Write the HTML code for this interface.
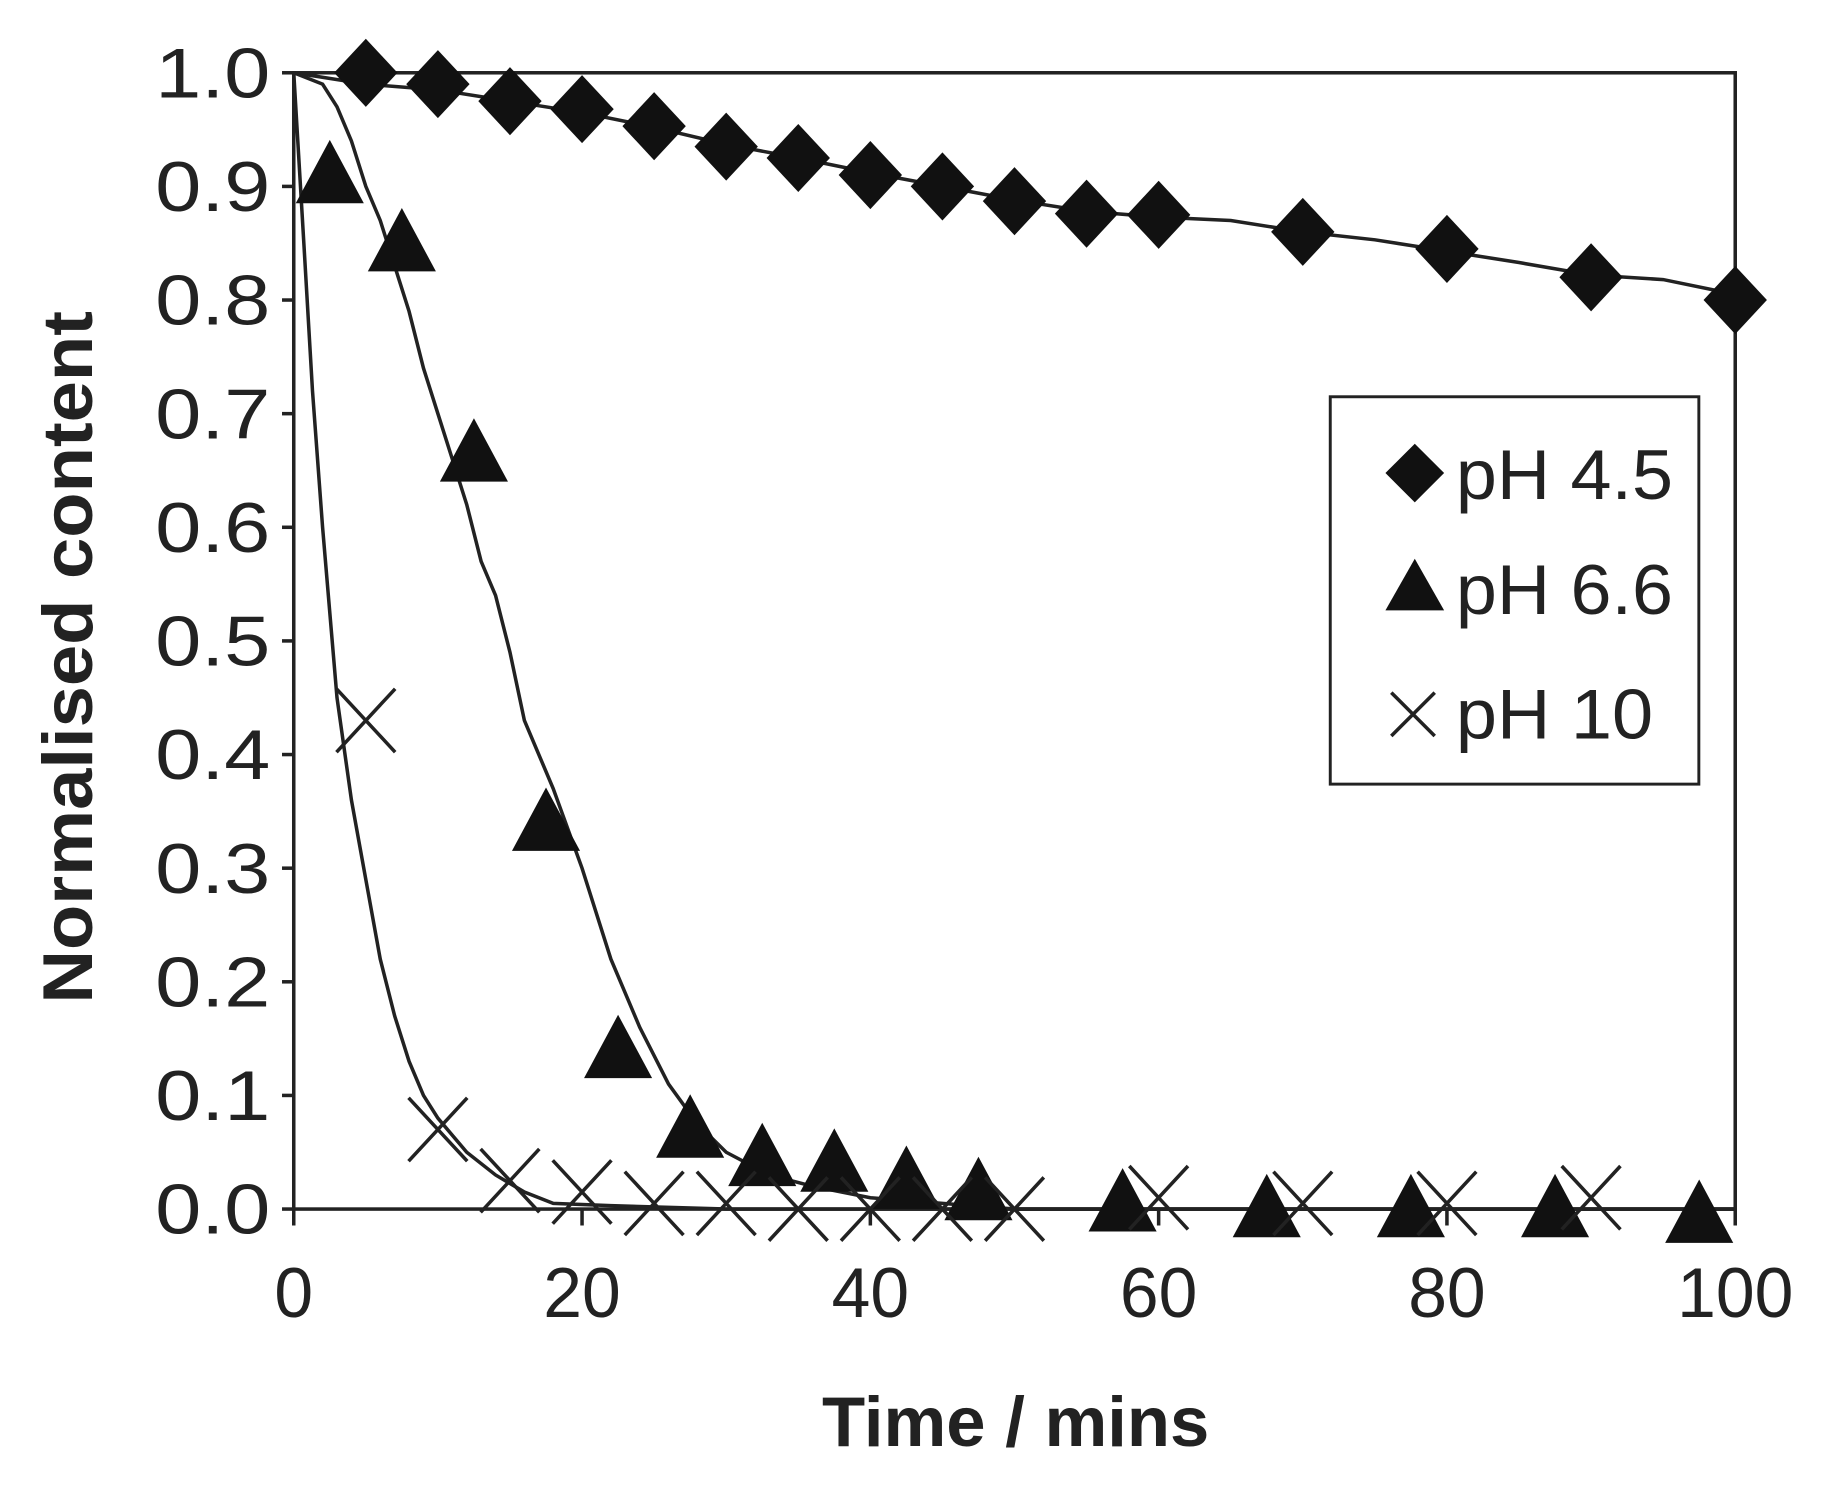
<!DOCTYPE html>
<html><head><meta charset="utf-8"><style>
html,body{margin:0;padding:0;background:#fff;}
svg{display:block;}
text{font-family:"Liberation Sans",Arial,sans-serif;fill:#222;}
</style></head><body>
<svg id="s" width="1840" height="1499" viewBox="0 0 1567 1277" xmlns="http://www.w3.org/2000/svg">
<rect x="0" y="0" width="1567" height="1277" fill="#fff"/>
<rect x="250" y="62" width="1228" height="968" fill="none" stroke="#222" stroke-width="3"/>
<g id="ticks" stroke="#222" stroke-width="3"></g>
<g id="labels" font-size="60" ></g>
<g id="curves" fill="none" stroke="#222" stroke-width="3"></g>
<g id="marks"></g>
<text x="865" y="1232" font-size="60" font-weight="bold" text-anchor="middle" textLength="330" lengthAdjust="spacingAndGlyphs">Time / mins</text>
<text transform="translate(78,560) rotate(-90)" font-size="60" font-weight="bold" text-anchor="middle" textLength="590" lengthAdjust="spacingAndGlyphs">Normalised content</text>
<rect x="1133" y="338" width="314" height="330" fill="#fff" stroke="#222" stroke-width="2.5"/>
<polygon points="1205,378 1230,403 1205,428 1180,403" fill="#111"/>
<text x="1240" y="425" font-size="60" textLength="185" lengthAdjust="spacingAndGlyphs">pH 4.5</text>
<polygon points="1205,476 1230,520 1180,520" fill="#111"/>
<text x="1240" y="523" font-size="60" textLength="185" lengthAdjust="spacingAndGlyphs">pH 6.6</text>
<path d="M1185,590 L1222,627 M1222,590 L1185,627" stroke="#222" stroke-width="3"/>
<text x="1240" y="629" font-size="60" textLength="168" lengthAdjust="spacingAndGlyphs">pH 10</text>
</svg>
<script>
const X=t=>250+t*12.28, Y=v=>1030-v*968;
const NS="http://www.w3.org/2000/svg";
function el(p,n,a,txt){const e=document.createElementNS(NS,n);for(const k in a)e.setAttribute(k,a[k]);if(txt!==undefined)e.textContent=txt;document.getElementById(p).appendChild(e);}
for(let i=0;i<=10;i++){const y=Y(i/10);el("ticks","line",{x1:240,y1:y,x2:250,y2:y});el("labels","text",{x:230,y:y+21,"text-anchor":"end",textLength:98,lengthAdjust:"spacingAndGlyphs"},(i/10).toFixed(1));}
for(let i=0;i<=5;i++){const x=X(i*20);const s=String(i*20);el("ticks","line",{x1:x,y1:1030,x2:x,y2:1044});el("labels","text",{x:x,y:1122,"text-anchor":"middle",textLength:s.length*33,lengthAdjust:"spacingAndGlyphs"},s);}
function curve(pts){el("curves","polyline",{points:pts.map(p=>X(p[0])+","+Y(p[1])).join(" ")});}
curve([[0,1],[5,0.99],[10,0.985],[15,0.975],[20,0.965],[25,0.952],[30,0.937],[35,0.925],[40,0.912],[45,0.9],[50,0.888],[55,0.878],[60,0.873],[65,0.87],[70,0.86],[75,0.853],[80,0.843],[85,0.833],[90,0.822],[95,0.818],[100,0.805]]);
curve([[0,1],[2,0.99],[3,0.97],[4,0.94],[5,0.90],[6,0.87],[7,0.83],[8,0.79],[9,0.74],[10,0.70],[11,0.66],[12,0.62],[13,0.57],[14,0.54],[15,0.49],[16,0.43],[17,0.40],[18,0.37],[20,0.30],[22,0.22],[24,0.16],[26,0.11],[28,0.075],[30,0.05],[33,0.03],[36,0.02],[40,0.01],[45,0.005],[50,0],[100,0]]);
curve([[0,1],[0.7,0.85],[1.3,0.72],[2,0.6],[3,0.45],[4,0.36],[5,0.29],[6,0.22],[7,0.17],[8,0.13],[9,0.10],[10,0.08],[11,0.065],[12,0.05],[14,0.03],[16,0.015],[18,0.005],[22,0.003],[30,0],[100,0]]);
[[5,1],[10,0.99],[15,0.975],[20,0.968],[25,0.953],[30,0.935],[35,0.925],[40,0.91],[45,0.9],[50,0.887],[55,0.876],[60,0.875],[70,0.86],[80,0.845],[90,0.82],[100,0.8]].forEach(p=>{const x=X(p[0]),y=Y(p[1]);el("marks","polygon",{points:`${x},${y-29} ${x+27},${y} ${x},${y+29} ${x-27},${y}`,fill:"#111"});});
[[2.5,0.91],[7.5,0.85],[12.5,0.665],[17.5,0.34],[22.5,0.14],[27.5,0.07],[32.5,0.045],[37.5,0.04],[42.5,0.025],[47.5,0.015],[57.5,0.005],[67.5,0],[77.5,0],[87.5,0],[97.5,-0.005]].forEach(p=>{const x=X(p[0]),y=Y(p[1]);el("marks","polygon",{points:`${x},${y-30} ${x+29},${y+24} ${x-29},${y+24}`,fill:"#111"});});
[[5,0.43],[10,0.07],[15,0.025],[20,0.015],[25,0.005],[30,0.005],[35,0],[40,0],[45,0],[50,0],[60,0.01],[70,0.005],[80,0.005],[90,0.01]].forEach(p=>{const x=X(p[0]),y=Y(p[1]);el("marks","path",{d:`M${x-25},${y-27} L${x+25},${y+27} M${x+25},${y-27} L${x-25},${y+27}`,stroke:"#222","stroke-width":3});});
</script>
</body></html>
